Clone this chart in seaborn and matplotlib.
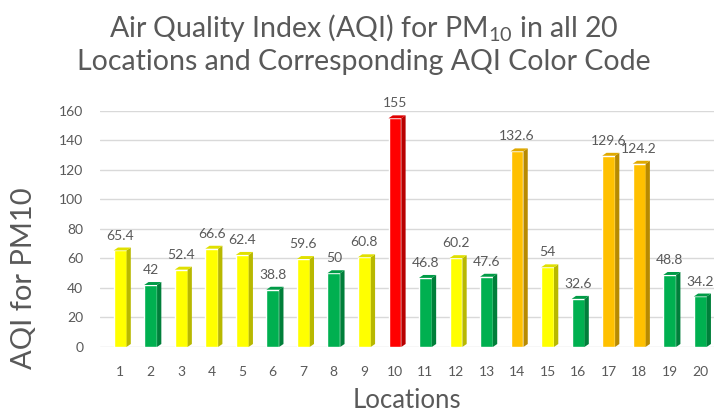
import matplotlib
matplotlib.use('Agg')
import matplotlib.pyplot as plt
from matplotlib.patches import Polygon
import matplotlib.colors as mcolors
import pandas as pd
import seaborn as sns

sns.set_style('white')
plt.rcParams['font.family'] = ['Lato', 'DejaVu Sans']
plt.rcParams['mathtext.fontset'] = 'custom'
plt.rcParams['mathtext.rm'] = 'Lato'

# ---------------------------------------------------------------------------------------
# Data

locations = [str(i) for i in range(1, 21)]
aqi = [65.4, 42, 52.4, 66.6, 62.4, 38.8, 59.6, 50, 60.8, 155,
       46.8, 60.2, 47.6, 132.6, 54, 32.6, 129.6, 124.2, 48.8, 34.2]
category = ['Moderate', 'Good', 'Moderate', 'Moderate', 'Moderate', 'Good', 'Moderate', 'Good',
            'Moderate', 'Unhealthy', 'Good', 'Moderate', 'Good', 'Sensitive', 'Moderate', 'Good',
            'Sensitive', 'Sensitive', 'Good', 'Good']
aqi_colors = {'Good': '#00B050', 'Moderate': '#FFFF00', 'Sensitive': '#FFC000', 'Unhealthy': '#FF0000'}

df = pd.DataFrame({'location': locations, 'aqi': aqi, 'category': category})

# ---------------------------------------------------------------------------------------
# Plot

grey = '#595959'
fig = plt.figure(figsize=(7.14, 4.17), dpi=100)
ax = fig.add_axes([0.14, 0.168, 0.86, 0.566])

sns.barplot(data=df, x='location', y='aqi', hue='category', palette=aqi_colors,
            dodge=False, width=0.42, legend=False, ax=ax, saturation=1, zorder=3)

# fake 3D look: darker side face and top face on each bar
depth_x, depth_y = 0.14, 2.0
for bar in ax.patches:
    x0, w, h = bar.get_x(), bar.get_width(), bar.get_height()
    if h <= 0:
        continue
    c = mcolors.to_rgb(bar.get_facecolor())
    side = tuple(v * 0.72 for v in c)
    top = tuple(v * 0.88 for v in c)
    ax.add_patch(Polygon([(x0 + w, 0), (x0 + w + depth_x, depth_y), (x0 + w + depth_x, h + depth_y), (x0 + w, h)],
                         closed=True, facecolor=side, edgecolor='none', zorder=3))
    ax.add_patch(Polygon([(x0, h), (x0 + depth_x, h + depth_y), (x0 + w + depth_x, h + depth_y), (x0 + w, h)],
                         closed=True, facecolor=top, edgecolor='none', zorder=3))
    ax.text(x0 + w / 2, h + 6, f'{h:g}', ha='center', va='bottom', fontsize=10, color=grey, zorder=4)

ax.set_ylim(0, 160)
ax.set_xlim(-0.66, 19.45)
ax.set_yticks(range(0, 161, 20))
ax.yaxis.grid(True, color='#d9d9d9', linewidth=1, zorder=0)
ax.set_axisbelow(True)
for s in ax.spines.values():
    s.set_visible(False)
ax.tick_params(axis='both', length=0, labelsize=10, labelcolor=grey)
ax.tick_params(axis='y', pad=12)
ax.tick_params(axis='x', pad=14)

ax.set_xlabel('Locations', fontsize=18.5, color=grey, labelpad=7)
ax.set_ylabel('AQI for PM10', fontsize=21, color=grey)
ax.yaxis.set_label_coords(-0.103, 0.29)
fig.text(0.51, 0.972, 'Air Quality Index (AQI) for PM$_{10}$ in all 20\nLocations and Corresponding AQI Color Code',
         ha='center', va='top', fontsize=20.5, color=grey, linespacing=1.25)

fig.savefig('out.png', dpi=100)
